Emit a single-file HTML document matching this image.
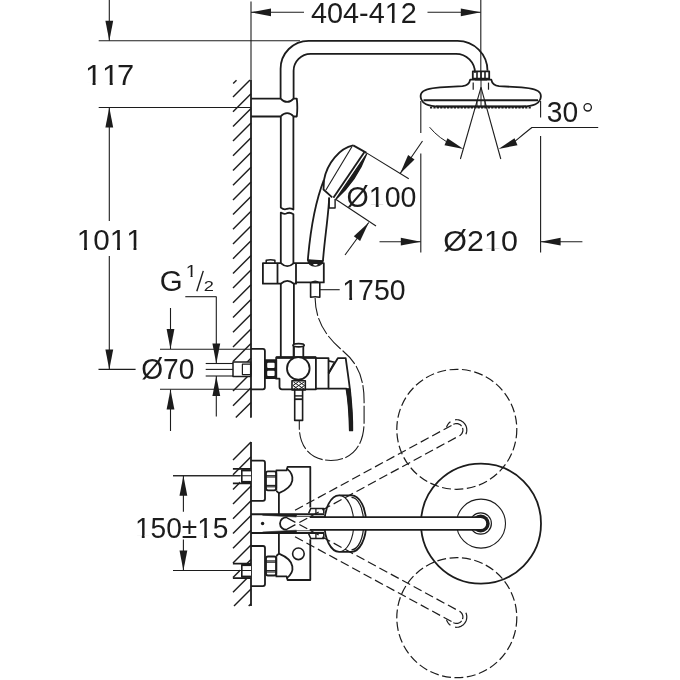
<!DOCTYPE html>
<html><head><meta charset="utf-8"><style>
html,body{margin:0;padding:0;background:#fff;width:680px;height:680px;overflow:hidden}
svg{display:block;will-change:transform}
text{font-family:"Liberation Sans",sans-serif;fill:#1c1c1c;stroke:none}
</style></head><body>
<svg width="680" height="680" viewBox="0 0 680 680" stroke="#1c1c1c" fill="none" stroke-linecap="butt" stroke-linejoin="round">
<line x1="251" y1="1.5" x2="251" y2="80" stroke-width="1.1" />
<line x1="251" y1="12.3" x2="304" y2="12.3" stroke-width="1.1" />
<path d="M251,12.3 L271,8.4 L271,16.2 Z" fill="#1c1c1c" stroke="none"/>
<line x1="427.5" y1="12.3" x2="480.8" y2="12.3" stroke-width="1.1" />
<path d="M480.8,12.3 L460.8,16.2 L460.8,8.4 Z" fill="#1c1c1c" stroke="none"/>
<line x1="480.8" y1="0" x2="480.8" y2="71" stroke-width="1.1" />
<g transform="translate(311.00,22.60) scale(0.9933,1.0)"><text font-size="29"><tspan x="0.00">4</tspan><tspan x="16.13">0</tspan><tspan x="32.26">4</tspan><tspan x="48.38">-</tspan><tspan x="58.04">4</tspan><tspan x="74.17">1</tspan><tspan x="90.30">2</tspan></text><rect x="75.73" y="-2.87" width="5.58" height="4.17" fill="#fff" stroke="none"/><rect x="84.18" y="-2.87" width="5.72" height="4.17" fill="#fff" stroke="none"/></g>
<line x1="109.3" y1="0" x2="109.3" y2="40.8" stroke-width="1.1" />
<path d="M109.3,40.8 L105.4,20.8 L113.2,20.8 Z" fill="#1c1c1c" stroke="none"/>
<line x1="98.7" y1="40.8" x2="300" y2="40.8" stroke-width="1.1" />
<line x1="98.7" y1="107.5" x2="251" y2="107.5" stroke-width="1.1" />
<path d="M109.3,107.5 L113.2,127.5 L105.4,127.5 Z" fill="#1c1c1c" stroke="none"/>
<line x1="109.3" y1="107.5" x2="109.3" y2="221" stroke-width="1.1" />
<line x1="109.3" y1="256" x2="109.3" y2="369.4" stroke-width="1.1" />
<path d="M109.3,369.4 L105.4,349.4 L113.2,349.4 Z" fill="#1c1c1c" stroke="none"/>
<line x1="98.5" y1="369.4" x2="135.6" y2="369.4" stroke-width="1.1" />
<g transform="translate(84.93,84.90) scale(1.0640,1.0)"><text font-size="29"><tspan x="0.00">1</tspan><tspan x="16.13">1</tspan><tspan x="30.10">7</tspan></text><rect x="1.56" y="-2.87" width="5.58" height="4.17" fill="#fff" stroke="none"/><rect x="10.01" y="-2.87" width="5.72" height="4.17" fill="#fff" stroke="none"/><rect x="17.69" y="-2.87" width="5.58" height="4.17" fill="#fff" stroke="none"/><rect x="26.13" y="-2.87" width="5.72" height="4.17" fill="#fff" stroke="none"/></g>
<g transform="translate(76.75,249.50) scale(1.0225,1.0)"><text font-size="29"><tspan x="0.00">1</tspan><tspan x="16.13">0</tspan><tspan x="32.26">1</tspan><tspan x="48.38">1</tspan></text><rect x="1.56" y="-2.87" width="5.58" height="4.17" fill="#fff" stroke="none"/><rect x="10.01" y="-2.87" width="5.72" height="4.17" fill="#fff" stroke="none"/><rect x="33.81" y="-2.87" width="5.58" height="4.17" fill="#fff" stroke="none"/><rect x="42.26" y="-2.87" width="5.72" height="4.17" fill="#fff" stroke="none"/><rect x="49.94" y="-2.87" width="5.58" height="4.17" fill="#fff" stroke="none"/><rect x="58.39" y="-2.87" width="5.72" height="4.17" fill="#fff" stroke="none"/></g>
<line x1="250" y1="80" x2="233" y2="97" stroke-width="1.4" />
<line x1="251" y1="93.7" x2="233" y2="111.7" stroke-width="1.4" />
<line x1="251" y1="108.4" x2="233" y2="126.4" stroke-width="1.4" />
<line x1="251" y1="123.1" x2="233" y2="141.1" stroke-width="1.4" />
<line x1="251" y1="137.8" x2="233" y2="155.8" stroke-width="1.4" />
<line x1="251" y1="152.5" x2="233" y2="170.5" stroke-width="1.4" />
<line x1="251" y1="167.2" x2="233" y2="185.2" stroke-width="1.4" />
<line x1="251" y1="181.9" x2="233" y2="199.9" stroke-width="1.4" />
<line x1="251" y1="196.6" x2="233" y2="214.6" stroke-width="1.4" />
<line x1="251" y1="211.3" x2="233" y2="229.3" stroke-width="1.4" />
<line x1="251" y1="226" x2="233" y2="244" stroke-width="1.4" />
<line x1="251" y1="240.7" x2="233" y2="258.7" stroke-width="1.4" />
<line x1="251" y1="255.4" x2="233" y2="273.4" stroke-width="1.4" />
<line x1="251" y1="270.1" x2="233" y2="288.1" stroke-width="1.4" />
<line x1="251" y1="284.8" x2="233" y2="302.8" stroke-width="1.4" />
<line x1="251" y1="299.5" x2="233" y2="317.5" stroke-width="1.4" />
<line x1="251" y1="314.2" x2="233" y2="332.2" stroke-width="1.4" />
<line x1="251" y1="328.9" x2="233" y2="346.9" stroke-width="1.4" />
<line x1="251" y1="343.6" x2="233" y2="361.6" stroke-width="1.4" />
<line x1="251" y1="358.3" x2="233" y2="376.3" stroke-width="1.4" />
<line x1="251" y1="373" x2="233" y2="391" stroke-width="1.4" />
<line x1="251" y1="387.7" x2="233" y2="405.7" stroke-width="1.4" />
<line x1="251" y1="402.4" x2="235.8" y2="417.6" stroke-width="1.4" />
<line x1="251" y1="417.1" x2="250.5" y2="417.6" stroke-width="1.4" />
<line x1="251" y1="80" x2="251" y2="417.6" stroke-width="1.8" />
<line x1="233.2" y1="83.5" x2="236.5" y2="80.3" stroke-width="1.4" />
<line x1="251" y1="442" x2="233" y2="460" stroke-width="1.4" />
<line x1="251" y1="456.7" x2="233" y2="474.7" stroke-width="1.4" />
<line x1="251" y1="471.4" x2="233" y2="489.4" stroke-width="1.4" />
<line x1="251" y1="486.1" x2="233" y2="504.1" stroke-width="1.4" />
<line x1="251" y1="500.8" x2="233" y2="518.8" stroke-width="1.4" />
<line x1="251" y1="515.5" x2="233" y2="533.5" stroke-width="1.4" />
<line x1="251" y1="530.2" x2="233" y2="548.2" stroke-width="1.4" />
<line x1="251" y1="544.9" x2="233" y2="562.9" stroke-width="1.4" />
<line x1="251" y1="559.6" x2="233" y2="577.6" stroke-width="1.4" />
<line x1="251" y1="574.3" x2="233" y2="592.3" stroke-width="1.4" />
<line x1="251" y1="589" x2="234" y2="606" stroke-width="1.4" />
<line x1="251" y1="603.7" x2="248.7" y2="606" stroke-width="1.4" />
<line x1="251" y1="442" x2="251" y2="606" stroke-width="1.8" />
<path d="M280.6,98.6 L280.6,68.8 A28,28 0 0 1 308.6,40.8 L457.5,40.8 A30,30 0 0 1 487.5,70.8" stroke-width="1.8" fill="none" />
<path d="M293.6,98.6 L293.6,70.8 A17,17 0 0 1 310.6,53.8 L456,53.8 A19,19 0 0 1 475,72.8" stroke-width="1.8" fill="none" />
<path d="M251,98.6 L280.6,98.6 Q283.5,101.9 287.1,101.9 Q290.7,101.9 293.6,98.6 L296.8,98.6 Q297.8,107.5 296.8,116.5 L293.6,116.5 Q290.7,113.2 287.1,113.2 Q283.5,113.2 280.6,116.5 L251,116.5" stroke-width="1.8" fill="none" />
<path d="M280.8,116.5 L280.8,207.6 Q284,210.2 287,208.8 Q290,207.5 293.4,209.5 L293.4,116.5" stroke-width="1.8" fill="none" />
<path d="M280.8,263.2 L280.8,212.6 Q284,214.7 287,213.2 Q290,212 293.4,214.2 L293.4,263.2" stroke-width="1.8" fill="none" />
<line x1="280.8" y1="283.7" x2="280.8" y2="357.5" stroke-width="1.8" />
<line x1="293.9" y1="283.7" x2="293.9" y2="357.5" stroke-width="1.8" />
<path d="M472.8,71.3 h16.4 v7.4 h-16.4 Z" stroke-width="1.8" fill="none" />
<line x1="477" y1="71.3" x2="477" y2="78.7" stroke-width="1.6" />
<line x1="481" y1="71.3" x2="481" y2="78.7" stroke-width="1.6" />
<line x1="485" y1="71.3" x2="485" y2="78.7" stroke-width="1.6" />
<line x1="475" y1="79.5" x2="487" y2="79.5" stroke-width="1.8" />
<path d="M470.2,79.6 C469.5,83.5 467.5,85.6 462.5,86.1 L440,87.4 C430,88.2 423,89.5 421.2,93.5 C419.8,97 421,101.8 426,104.2 C429,105.6 433,106.3 440,106.6 L521.5,106.6 C528.5,106.3 532.5,105.6 535.5,104.2 C540.5,101.8 541.7,97 540.3,93.5 C538.5,89.5 531.5,88.2 521.5,87.4 L499,86.1 C494,85.6 492,83.5 491.3,79.6 Z" stroke-width="1.8" fill="none" />
<line x1="423.5" y1="100.3" x2="538" y2="100.3" stroke-width="1.9" />
<line x1="436" y1="106.4" x2="526" y2="106.4" stroke-width="1.6" />
<path d="M430,107.6 L532,107.6" stroke-width="1.6" stroke-dasharray="2.2 1.2"/>
<line x1="473.2" y1="82.6" x2="473.2" y2="89.7" stroke-width="1.2" />
<line x1="488.5" y1="82.6" x2="488.5" y2="89.7" stroke-width="1.2" />
<line x1="481" y1="71" x2="481" y2="107" stroke-width="1.0" />
<line x1="477" y1="100.3" x2="477" y2="106.6" stroke-width="1.0" />
<line x1="485" y1="100.3" x2="485" y2="106.6" stroke-width="1.0" />
<line x1="481" y1="87.4" x2="460.4" y2="159" stroke-width="1.1" />
<line x1="481" y1="87.4" x2="500.8" y2="159" stroke-width="1.1" />
<path d="M429.6,127.2 C436,135 444,141 453,145" stroke-width="1.0" fill="none" />
<path d="M463.5,149 L444.51,145.15 L447.45,138.14 Z" fill="#1c1c1c" stroke="none"/>
<path d="M532,127.5 C526,132 519,138 511,144.5" stroke-width="1.1" fill="none" />
<path d="M498.5,149 L514.55,138.14 L517.49,145.15 Z" fill="#1c1c1c" stroke="none"/>
<line x1="531.5" y1="127.5" x2="598.2" y2="127.5" stroke-width="1.1" />
<g transform="translate(546.83,122.10) scale(0.9733,1.0)"><text font-size="29"><tspan x="0.00">3</tspan><tspan x="16.13">0</tspan></text></g>
<circle cx="587.7" cy="107.3" r="3.7" stroke-width="1.3" fill="none" />
<line x1="420.8" y1="101" x2="420.8" y2="133" stroke-width="1.1" />
<line x1="420.8" y1="153.5" x2="420.8" y2="252.5" stroke-width="1.1" />
<line x1="540.6" y1="101" x2="540.6" y2="117.5" stroke-width="1.1" />
<line x1="540.6" y1="136" x2="540.6" y2="252.5" stroke-width="1.1" />
<line x1="379.5" y1="241.7" x2="420.8" y2="241.7" stroke-width="1.1" />
<path d="M420.8,241.7 L400.8,245.6 L400.8,237.8 Z" fill="#1c1c1c" stroke="none"/>
<line x1="540.6" y1="241.7" x2="582.4" y2="241.7" stroke-width="1.1" />
<path d="M540.6,241.7 L560.6,237.8 L560.6,245.6 Z" fill="#1c1c1c" stroke="none"/>
<g transform="translate(443.34,251.45) scale(1.0517,1.0)"><text font-size="29"><tspan x="0.00">Ø</tspan><tspan x="22.56">2</tspan><tspan x="38.69">1</tspan><tspan x="54.81">0</tspan></text><rect x="40.24" y="-2.87" width="5.58" height="4.17" fill="#fff" stroke="none"/><rect x="48.69" y="-2.87" width="5.72" height="4.17" fill="#fff" stroke="none"/></g>
<path d="M323.8,180.1 C318,195 311,222 307.8,260.4" stroke-width="1.8" fill="none" />
<path d="M329.2,197.6 C328.5,215 324.5,240 322.9,261.5" stroke-width="1.8" fill="none" />
<path d="M307.6,259.8 C309,268 321,268 323,260.8 Z" stroke-width="1.2" fill="#1c1c1c" />
<ellipse cx="315.4" cy="264.6" rx="2.2" ry="1.1" fill="#fff" stroke="none"/>
<path d="M353.2,145.4 C340,148 327,163 324,180 L323.5,189.5 L332.2,197.3" stroke-width="1.8" fill="none" />
<path d="M353.2,145.4 L366.5,152.9" stroke-width="1.8" fill="none" />
<line x1="351.9" y1="146.8" x2="325.9" y2="190" stroke-width="1.1" />
<line x1="364.3" y1="152.2" x2="333.4" y2="197.7" stroke-width="1.9" />
<path d="M366.6,154 Q356.9,180.5 335.9,199.2 Z" stroke-width="1.3" fill="#1c1c1c" />
<path d="M329.1,197.6 L329.1,208 L335.1,208 L335.1,199" stroke-width="1.4" fill="none" />
<line x1="366.5" y1="152.9" x2="408.75" y2="178.75" stroke-width="1.1" />
<line x1="336" y1="199.5" x2="376" y2="226" stroke-width="1.1" />
<line x1="422.5" y1="141" x2="400" y2="173.75" stroke-width="1.1" />
<path d="M400,173.75 L408.11,155.06 L414.54,159.47 Z" fill="#1c1c1c" stroke="none"/>
<line x1="345" y1="255" x2="368.75" y2="222.5" stroke-width="1.1" />
<path d="M368.75,222.5 L360.1,240.95 L353.8,236.35 Z" fill="#1c1c1c" stroke="none"/>
<g transform="translate(346.52,207.40) scale(0.9854,1.0)"><text font-size="29"><tspan x="0.00">Ø</tspan><tspan x="22.56">1</tspan><tspan x="38.69">0</tspan><tspan x="54.81">0</tspan></text><rect x="24.11" y="-2.87" width="5.58" height="4.17" fill="#fff" stroke="none"/><rect x="32.56" y="-2.87" width="5.72" height="4.17" fill="#fff" stroke="none"/></g>
<path d="M262.9,263.2 L280.8,263.2 Q284,266.2 287.3,266.2 Q290.6,266.2 293.9,263.2 L323.8,263.2 L323.8,282.4 L296,282.4 L296,283.7 L293.9,283.7 Q290.6,280.9 287.3,280.9 Q284,280.9 280.8,283.7 L262.9,283.7 Z" stroke-width="1.8" fill="none" />
<line x1="277.5" y1="263.2" x2="277.5" y2="283.7" stroke-width="1.8" />
<line x1="296" y1="263.2" x2="296" y2="283.7" stroke-width="1.8" />
<path d="M266.2,263.2 L266.2,260.2 Q270.5,259.4 274.9,260.2 L274.9,263.2" stroke-width="1.5" fill="none" />
<path d="M310.6,282.4 L310.6,297.2 Q315.2,296.2 319.8,297.2 L319.8,282.4" stroke-width="1.6" fill="none" />
<path d="M311.2,282.6 Q315.2,279.8 319.2,282.6 Z" stroke-width="1.2" fill="#1c1c1c" />
<line x1="319.8" y1="289.7" x2="339.7" y2="289.7" stroke-width="1.1" />
<g transform="translate(342.27,299.70) scale(0.9800,1.0)"><text font-size="29"><tspan x="0.00">1</tspan><tspan x="16.13">7</tspan><tspan x="32.26">5</tspan><tspan x="48.38">0</tspan></text><rect x="1.56" y="-2.87" width="5.58" height="4.17" fill="#fff" stroke="none"/><rect x="10.01" y="-2.87" width="5.72" height="4.17" fill="#fff" stroke="none"/></g>
<path d="M315.1,298 C315.5,320 325,336 343,351 C356,362 364,375 364.1,401 L364.1,422 C364,448 350,460.5 331,460.5 C311,460.5 299.5,447 299.3,427.6 L299.3,420" stroke-width="1.1" fill="none" stroke-dasharray="18 2.5"/>
<g transform="translate(159.68,291.10) scale(1.0159,1.0)"><text font-size="29"><tspan x="0.00">G</tspan></text></g>
<g transform="translate(185.71,276.70) scale(1.2313,1.0)"><text font-size="16"><tspan x="0.00">1</tspan></text><rect x="0.86" y="-1.90" width="3.01" height="3.20" fill="#fff" stroke="none"/><rect x="5.59" y="-1.90" width="3.16" height="3.20" fill="#fff" stroke="none"/></g>
<g transform="translate(203.82,290.80) scale(1.2576,1.0)"><text font-size="14.5"><tspan x="0.00">2</tspan></text></g>
<line x1="196.8" y1="291.2" x2="203.3" y2="270.9" stroke-width="1.4" />
<line x1="185.3" y1="296.7" x2="216.5" y2="296.7" stroke-width="1.1" />
<line x1="216.3" y1="296.7" x2="216.3" y2="363.5" stroke-width="1.1" />
<path d="M216.3,363.5 L212.4,343.5 L220.2,343.5 Z" fill="#1c1c1c" stroke="none"/>
<line x1="216.3" y1="376" x2="216.3" y2="416.5" stroke-width="1.1" />
<path d="M216.3,376 L220.2,396 L212.4,396 Z" fill="#1c1c1c" stroke="none"/>
<line x1="170.5" y1="308" x2="170.5" y2="349" stroke-width="1.1" />
<path d="M170.5,349 L166.6,329 L174.4,329 Z" fill="#1c1c1c" stroke="none"/>
<line x1="170.5" y1="389.5" x2="170.5" y2="431" stroke-width="1.1" />
<path d="M170.5,389.5 L174.4,409.5 L166.6,409.5 Z" fill="#1c1c1c" stroke="none"/>
<line x1="160" y1="349.2" x2="251" y2="349.2" stroke-width="1.1" />
<line x1="160" y1="389.3" x2="251" y2="389.3" stroke-width="1.1" />
<g transform="translate(141.13,378.80) scale(0.9715,1.0)"><text font-size="29"><tspan x="0.00">Ø</tspan><tspan x="22.56">7</tspan><tspan x="38.69">0</tspan></text></g>
<line x1="205.7" y1="363.5" x2="233" y2="363.5" stroke-width="1.1" />
<line x1="205.7" y1="369.4" x2="233" y2="369.4" stroke-width="1.1" />
<line x1="205.7" y1="376" x2="233" y2="376" stroke-width="1.1" />
<path d="M233,361.9 h17.7 v14.7 h-17.7 Z" stroke-width="1.5" fill="#fff" />
<path d="M242.4,364.2 h8.3 v10.4 h-8.3 Z" stroke-width="1.2" fill="none" />
<path d="M251,348.9 L262.9,348.9 Q264.9,348.9 264.9,350.9 L264.9,387.3 Q264.9,389.3 262.9,389.3 L251,389.3" stroke-width="1.8" fill="none" />
<path d="M264.9,360.1 h11.3 v17.9 h-11.3 Z" stroke-width="1.8" fill="#1c1c1c" />
<path d="M268.2,362.8 h5.4 q1,0 1,1 v3.3 q0,1 -1,1 h-5.4 q-1,0 -1,-1 v-3.3 q0,-1 1,-1 Z" stroke-width="0" fill="#fff" stroke="none"/>
<path d="M268.2,370.7 h5.4 q1,0 1,1 v3.3 q0,1 -1,1 h-5.4 q-1,0 -1,-1 v-3.3 q0,-1 1,-1 Z" stroke-width="0" fill="#fff" stroke="none"/>
<path d="M276.2,357.5 L315.9,357.5 L315.9,389.3 L282,389.3 Q279.5,389.3 279.5,386.8 L279.5,378.7 L276.2,378.7 Z" stroke-width="1.8" fill="none" />
<line x1="276.2" y1="357.5" x2="315.9" y2="357.5" stroke-width="2.4" />
<circle cx="298.3" cy="368.4" r="11.3" stroke-width="1.8" fill="#fff" />
<path d="M293.6,357.5 L293.6,345 M303.3,357.5 L303.3,345" stroke-width="1.8" fill="none" />
<ellipse cx="298.6" cy="345.2" rx="5.6" ry="1.6" fill="#fff" stroke-width="1.7"/>
<path d="M292,380.7 h13.3 v9.2 h-13.3 Z" stroke-width="1.6" fill="none" />
<path d="M293.5,382 L304,389 M293.5,389 L304,382 M298.7,381.5 L304.5,385.5 L298.7,389.5 L293,385.5 Z" stroke-width="1.0" fill="none"/>
<path d="M294.7,389.9 L294.7,420.4 L302.6,420.4 L302.6,389.9" stroke-width="1.6" fill="none" />
<line x1="294.7" y1="395.9" x2="302.6" y2="395.9" stroke-width="1.4" />
<line x1="294.7" y1="399.2" x2="302.6" y2="399.2" stroke-width="1.8" />
<path d="M315.9,358.2 L328.5,358.2 L328.5,388.7 L315.9,388.7" stroke-width="1.8" fill="none" />
<path d="M328.5,360.9 L334.5,362.2 L328.5,373.5" stroke-width="1.6" fill="none" />
<path d="M328.5,373.5 L337.8,358.2 L345.7,358.2 C348,375 349.5,385 350.2,392 C351.5,405 352.5,418 352.3,430.4 L349.8,430.4 C349.5,415 348.5,400 346.4,388.7 L328.5,388.7" stroke-width="1.8" fill="none" />
<path d="M346.4,388.7 C348.5,400 349.5,415 349.8,430.4 L352.3,430.4 C352.5,418 351.5,405 350.2,392 L349.8,388.7 Z" stroke-width="1.0" fill="#1c1c1c" />
<line x1="173" y1="475.7" x2="251" y2="475.7" stroke-width="1.1" />
<line x1="173" y1="570.5" x2="251" y2="570.5" stroke-width="1.1" />
<line x1="183.4" y1="475.7" x2="183.4" y2="511.8" stroke-width="1.1" />
<path d="M183.4,475.7 L187.3,495.7 L179.5,495.7 Z" fill="#1c1c1c" stroke="none"/>
<line x1="183.4" y1="539.6" x2="183.4" y2="570.5" stroke-width="1.1" />
<path d="M183.4,570.5 L179.5,550.5 L187.3,550.5 Z" fill="#1c1c1c" stroke="none"/>
<g transform="translate(134.90,538.00) scale(0.9696,1.0)"><text font-size="29"><tspan x="0.00">1</tspan><tspan x="16.13">5</tspan><tspan x="32.26">0</tspan><tspan x="48.38">±</tspan><tspan x="64.30">1</tspan><tspan x="80.43">5</tspan></text><rect x="1.56" y="-2.87" width="5.58" height="4.17" fill="#fff" stroke="none"/><rect x="10.01" y="-2.87" width="5.72" height="4.17" fill="#fff" stroke="none"/><rect x="65.86" y="-2.87" width="5.58" height="4.17" fill="#fff" stroke="none"/><rect x="74.31" y="-2.87" width="5.72" height="4.17" fill="#fff" stroke="none"/></g>
<rect x="240" y="468.9" width="11" height="14.5" fill="#fff" stroke="none"/>
<path d="M232.9,468.9 H251 M232.9,483.4 H251" stroke-width="1.8" fill="none" />
<path d="M251,470.09999999999997 H241.8 V482.2 H251" stroke-width="1.6" fill="none" />
<line x1="241.8" y1="470.7" x2="251" y2="470.7" stroke-width="1.4" />
<line x1="241.8" y1="481.6" x2="251" y2="481.6" stroke-width="1.4" />
<rect x="240" y="563.6" width="11" height="14.5" fill="#fff" stroke="none"/>
<path d="M232.9,563.6 H251 M232.9,578.1 H251" stroke-width="1.8" fill="none" />
<path d="M251,564.8000000000001 H241.8 V576.9 H251" stroke-width="1.6" fill="none" />
<line x1="241.8" y1="565.4" x2="251" y2="565.4" stroke-width="1.4" />
<line x1="241.8" y1="576.3" x2="251" y2="576.3" stroke-width="1.4" />
<line x1="173" y1="475.7" x2="251" y2="475.7" stroke-width="1.1" />
<line x1="173" y1="570.5" x2="251" y2="570.5" stroke-width="1.1" />
<path d="M251,460.7 h12 q2,0 2,2 v36.1 q0,2 -2,2 h-12" stroke-width="1.8" fill="none" />
<path d="M251,546 h12 q2,0 2,2 v36.1 q0,2 -2,2 h-12" stroke-width="1.8" fill="none" />
<path d="M268,471.3 h6.2 q2,0 2,2 v15.0 q0,2 -2,2 h-6.2 q-2,0 -2,-2 v-15.0 q0,-2 2,-2 Z" stroke-width="1.8" fill="none" />
<line x1="266" y1="475.7" x2="276.2" y2="475.7" stroke-width="1.1" />
<line x1="266" y1="477" x2="276.2" y2="477" stroke-width="1.1" />
<line x1="266" y1="485.4" x2="276.2" y2="485.4" stroke-width="1.1" />
<line x1="266" y1="486.8" x2="276.2" y2="486.8" stroke-width="1.1" />
<path d="M268,556.5 h6.2 q2,0 2,2 v15.0 q0,2 -2,2 h-6.2 q-2,0 -2,-2 v-15.0 q0,-2 2,-2 Z" stroke-width="1.8" fill="none" />
<line x1="266" y1="560.9" x2="276.2" y2="560.9" stroke-width="1.1" />
<line x1="266" y1="562.2" x2="276.2" y2="562.2" stroke-width="1.1" />
<line x1="266" y1="570.6" x2="276.2" y2="570.6" stroke-width="1.1" />
<line x1="266" y1="572" x2="276.2" y2="572" stroke-width="1.1" />
<path d="M276.3,490.5 L276.3,470.4 L286.6,470.4 L287.6,466.8 L310.3,466.8 L310.3,507.6" stroke-width="1.8" fill="none" />
<path d="M286.6,468.4 C295,475 296,486 278.9,493.1 L276.3,490.8" stroke-width="1.8" fill="none" />
<line x1="278.9" y1="493.1" x2="278.9" y2="514.2" stroke-width="1.8" />
<path d="M276.3,556.3 L276.3,576.4 L286.6,576.4 L287.6,580 L310.3,580 L310.3,539.3" stroke-width="1.8" fill="none" />
<path d="M286.6,578.4 C295,571.8 296,560.8 278.9,553.7 L276.3,556" stroke-width="1.8" fill="none" />
<line x1="278.9" y1="553.7" x2="278.9" y2="533.4" stroke-width="1.8" />
<circle cx="298.4" cy="553.8" r="5.8" stroke-width="1.6" fill="none" />
<path d="M308.6,513.4 L310.8,508.4 L323.8,508.4 L323.8,513.4" stroke-width="1.5" fill="none" />
<line x1="315.9" y1="508.4" x2="315.9" y2="513.4" stroke-width="1.3" />
<path d="M308.6,533.6 L310.8,538.6 L323.8,538.6 L323.8,533.6" stroke-width="1.5" fill="none" />
<line x1="315.9" y1="533.6" x2="315.9" y2="538.6" stroke-width="1.3" />
<path d="M251,514.2 L324,514.2 M251,533.0 L324,533.0" stroke-width="2.0" fill="none" />
<path d="M262.6,514.4 L296.5,514.4 L296.5,517 L262.6,515.2 Z" stroke-width="0.6" fill="#1c1c1c" />
<path d="M262.6,532.8 L296.5,532.8 L296.5,530.2 L262.6,532 Z" stroke-width="0.6" fill="#1c1c1c" />
<line x1="296.5" y1="516.5" x2="324" y2="516.5" stroke-width="1.0" stroke="#555"/>
<line x1="296.5" y1="530.7" x2="324" y2="530.7" stroke-width="1.0" stroke="#555"/>
<circle cx="262.6" cy="523.5" r="1.7" stroke-width="0" fill="#1c1c1c" stroke="none"/>
<path d="M339.1,495.4 A14.7,28.2 0 0 0 339.1,551.8" stroke-width="1.8" fill="none" />
<path d="M339.1,495.4 A14.7,28.2 0 0 1 339.1,551.8" stroke-width="1.1" fill="none" />
<path d="M339.1,495.4 L351.5,495.4 A14.7,28.2 0 0 1 351.5,551.8 L339.1,551.8" stroke-width="1.8" fill="none" />
<path d="M351.5,497.4 A12.2,26.2 0 0 1 351.5,549.8" stroke-width="1.2" fill="none" />
<circle cx="481" cy="523.6" r="60" stroke-width="1.8" fill="none" />
<circle cx="481" cy="523.6" r="24.5" stroke-width="1.1" fill="none" />
<circle cx="480.7" cy="523.5" r="10.7" stroke-width="1.2" fill="#fff" />
<circle cx="480.7" cy="523.5" r="9" stroke-width="0" fill="#1c1c1c" stroke="none"/>
<path d="M309.7,517.1 L480.7,517.1 A6.4,6.4 0 0 1 480.7,529.9 L309.7,529.9" stroke-width="1.8" fill="#fff" />
<line x1="309.7" y1="517.1" x2="309.7" y2="529.9" stroke-width="0" stroke="none"/>
<path d="M287.3,517.4 A6.2,6.2 0 1 0 287.3,529.6" stroke-width="1.8" fill="none" />
<circle cx="456.8" cy="429.3" r="60" stroke-width="1.2" fill="none" stroke-dasharray="9 3.5"/>
<path d="M446.55,427.33 L447.01,425.99 L447.66,424.72 L448.47,423.55 L449.43,422.51 L450.53,421.61 L451.74,420.86 L453.05,420.3 L454.42,419.91 L455.83,419.72 L457.25,419.73 L458.66,419.93 L460.02,420.32 L461.32,420.9 L462.53,421.65 L463.62,422.56 L464.58,423.61 L465.38,424.79 L466.02,426.06 L466.47,427.41 L466.73,428.8 L466.8,430.22 L466.67,431.64 L466.35,433.03 L465.83,434.35" stroke-width="1.2" fill="none" stroke-dasharray="7 5 22 40"/>
<path d="M453.45,424.37 L454.21,424.02 L455.01,423.78 L455.84,423.63 L456.67,423.6 L457.51,423.68 L458.32,423.86 L459.11,424.16 L459.85,424.55 L460.53,425.03 L461.15,425.6 L461.68,426.24 L462.13,426.95 L462.48,427.71 L462.72,428.51 L462.87,429.34 L462.9,430.17 L462.82,431.01 L462.64,431.82 L462.34,432.61 L461.95,433.35 L461.47,434.03 L460.9,434.65 L460.26,435.18 L459.55,435.63" stroke-width="1.2" fill="none" stroke-dasharray="9 2 30"/>
<line x1="295.02" y1="510.25" x2="453.45" y2="424.37" stroke-width="1.2" stroke-dasharray="9 4 9 4 9 4 9 4 9 4 9 4 9 4 9 4 9 4 9 4 9 4 9 4 9 4 9 4 9 4 9 4"/>
<line x1="287.05" y1="529.13" x2="459.55" y2="435.63" stroke-width="1.2" stroke-dasharray="9.5 4.5 9 4 9 4 9 4 9 4 9 4 9 4 9 4 9 4 9 4 9 4 9 4 9 4 9 4 9 4 9 4 9 4"/>
<circle cx="456.8" cy="617.7" r="60" stroke-width="1.2" fill="none" stroke-dasharray="9 3.5"/>
<path d="M446.55,619.67 L447.01,621.01 L447.66,622.28 L448.47,623.45 L449.43,624.49 L450.53,625.39 L451.74,626.14 L453.05,626.7 L454.42,627.09 L455.83,627.28 L457.25,627.27 L458.66,627.07 L460.02,626.68 L461.32,626.1 L462.53,625.35 L463.62,624.44 L464.58,623.39 L465.38,622.21 L466.02,620.94 L466.47,619.59 L466.73,618.2 L466.8,616.78 L466.67,615.36 L466.35,613.97 L465.83,612.65" stroke-width="1.2" fill="none" stroke-dasharray="7 5 22 40"/>
<path d="M459.55,611.37 L460.26,611.82 L460.9,612.35 L461.47,612.97 L461.95,613.65 L462.34,614.39 L462.64,615.18 L462.82,615.99 L462.9,616.83 L462.87,617.66 L462.72,618.49 L462.48,619.29 L462.13,620.05 L461.68,620.76 L461.15,621.4 L460.53,621.97 L459.85,622.45 L459.11,622.84 L458.32,623.14 L457.51,623.32 L456.67,623.4 L455.84,623.37 L455.01,623.22 L454.21,622.98 L453.45,622.63" stroke-width="1.2" fill="none" stroke-dasharray="9 2 30"/>
<line x1="287.05" y1="517.87" x2="459.55" y2="611.37" stroke-width="1.2" stroke-dasharray="9.5 4.5 9 4 9 4 9 4 9 4 9 4 9 4 9 4 9 4 9 4 9 4 9 4 9 4 9 4 9 4 9 4 9 4"/>
<line x1="295.02" y1="536.75" x2="453.45" y2="622.63" stroke-width="1.2" stroke-dasharray="9 4 9 4 9 4 9 4 9 4 9 4 9 4 9 4 9 4 9 4 9 4 9 4 9 4 9 4 9 4 9 4"/>
</svg></body></html>
